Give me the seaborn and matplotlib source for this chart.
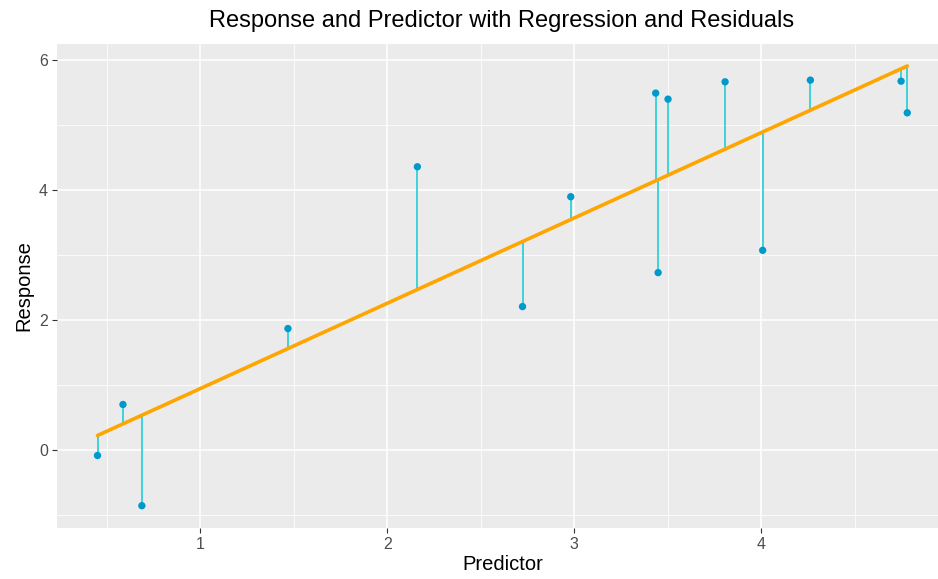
import numpy as np
import pandas as pd
import matplotlib
matplotlib.use("Agg")
import matplotlib.pyplot as plt
from matplotlib.ticker import FixedLocator
import seaborn as sns

predictor = [0.451, 0.587, 0.688, 1.469, 2.161, 2.723, 2.981, 3.435, 3.448,
             3.501, 3.806, 4.007, 4.262, 4.747, 4.780]
response = [-0.088, 0.698, -0.862, 1.868, 4.362, 2.207, 3.900, 5.497, 2.730,
            5.404, 5.671, 3.074, 5.697, 5.681, 5.193]
x_ticks = [1, 2, 3, 4]
y_ticks = [0, 2, 4, 6]

df = pd.DataFrame({"Predictor": predictor, "Response": response})
slope, intercept = np.polyfit(df["Predictor"], df["Response"], 1)
df["Fitted"] = intercept + slope * df["Predictor"]

sns.set_theme(style="darkgrid")
plt.rcParams["font.family"] = ["Liberation Sans", "DejaVu Sans"]

fig = plt.figure(figsize=(9.38, 5.79), dpi=100)
ax = fig.add_axes([0.0608, 0.0886, 0.9496, 0.8354])
ax.set_facecolor("#EBEBEB")

ax.vlines(df["Predictor"], df["Response"], df["Fitted"], color="#1FCFD6",
          linewidth=1.2, zorder=3)
sns.regplot(data=df, x="Predictor", y="Response", scatter=False, ci=None,
            ax=ax, line_kws=dict(color="#FFA500", linewidth=2.6, zorder=4))
sns.scatterplot(data=df, x="Predictor", y="Response", ax=ax, color="#0099CC",
                s=28, edgecolor="none", zorder=5)

xr = max(predictor) - min(predictor)
ax.set_xlim(min(predictor) - 0.05 * xr, max(predictor) + 0.05 * xr)
ylo = min(min(response), df["Fitted"].min())
yhi = max(max(response), df["Fitted"].max())
yr = yhi - ylo
ax.set_ylim(ylo - 0.05 * yr, yhi + 0.05 * yr)

ax.xaxis.set_major_locator(FixedLocator(x_ticks))
ax.yaxis.set_major_locator(FixedLocator(y_ticks))
ax.xaxis.set_minor_locator(FixedLocator([0.5, 1.5, 2.5, 3.5, 4.5]))
ax.yaxis.set_minor_locator(FixedLocator([-1, 1, 3, 5]))
ax.grid(which="major", color="white", linewidth=1.1)
ax.grid(which="minor", color="white", linewidth=0.55)
ax.set_axisbelow(True)
for s in ax.spines.values():
    s.set_visible(False)

ax.tick_params(axis="both", which="major", length=3.5, width=0.8,
               color="#333333", labelcolor="#4D4D4D", labelsize=11.5, pad=3,
               bottom=True, left=True)
ax.tick_params(axis="both", which="minor", length=0)

ax.set_xlabel("Predictor", fontsize=14.5, color="black", labelpad=2)
ax.set_ylabel("Response", fontsize=14.5, color="black", labelpad=4)
fig.text(0.535, 0.963, "Response and Predictor with Regression and Residuals",
         ha="center", va="center", fontsize=17, color="black")

fig.savefig("out.png", dpi=100)
